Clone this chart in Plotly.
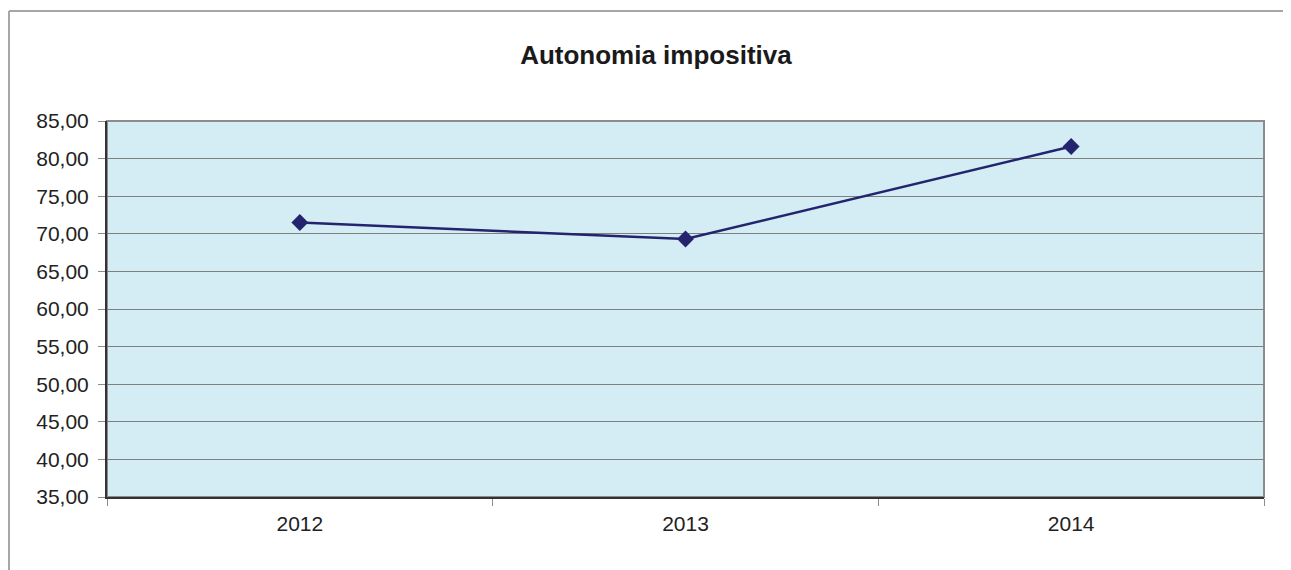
import plotly.graph_objects as go

# data
years = ["2012", "2013", "2014"]
autonomia = [71.5, 69.3, 81.6]
y_ticks = [35, 40, 45, 50, 55, 60, 65, 70, 75, 80, 85]

fig = go.Figure()

fig.add_trace(go.Scatter(
    x=years,
    y=autonomia,
    mode="lines+markers",
    line=dict(color="#24246E", width=2.5),
    marker=dict(symbol="diamond", size=13, color="#24246E"),
    showlegend=False,
))

# outer chart frame (left and top edges visible)
frame = dict(color="#A6A6A6", width=2)
fig.add_shape(type="line", xref="paper", yref="paper",
              x0=-0.0847, x1=1.03, y0=1.2926, y1=1.2926, line=frame)
fig.add_shape(type="line", xref="paper", yref="paper",
              x0=-0.0847, x1=-0.0847, y0=1.2926, y1=-0.22, line=frame)
# plot area border (top and right gray)
fig.add_shape(type="rect", xref="paper", yref="paper",
              x0=0, x1=1, y0=0, y1=1, layer="below",
              line=dict(color="#8C8C8C", width=2))

# the page body has an 8px margin, so the figure is sized to fit the window
fig.update_layout(
    width=1283,
    height=562,
    margin=dict(l=99, r=27, t=113, b=73),
    paper_bgcolor="white",
    plot_bgcolor="#D4ECF3",
    separators=",.",
    font=dict(family="Liberation Sans, Arial, sans-serif", color="#222222", size=21),
    title=dict(
        text="<b>Autonomia impositiva</b>",
        x=0.505, xanchor="center",
        y=0.916, yanchor="middle",
        font=dict(size=26, color="#1a1a1a"),
    ),
    xaxis=dict(
        type="category",
        range=[-0.5, 2.5],
        tickson="boundaries",
        ticks="outside",
        ticklen=7,
        tickcolor="#8C8C8C",
        ticklabelstandoff=7,
        showgrid=False,
        showline=True,
        linecolor="#333333",
        linewidth=2,
        tickfont=dict(size=21),
    ),
    yaxis=dict(
        range=[35, 85],
        tickvals=y_ticks,
        tickformat=".2f",
        ticks="outside",
        ticklen=7,
        tickcolor="#8C8C8C",
        ticklabelstandoff=5,
        showgrid=True,
        gridcolor="#7F7F7F",
        gridwidth=1,
        zeroline=False,
        showline=True,
        linecolor="#333333",
        linewidth=2,
        tickfont=dict(size=21),
    ),
)

fig.write_html("out.html")
